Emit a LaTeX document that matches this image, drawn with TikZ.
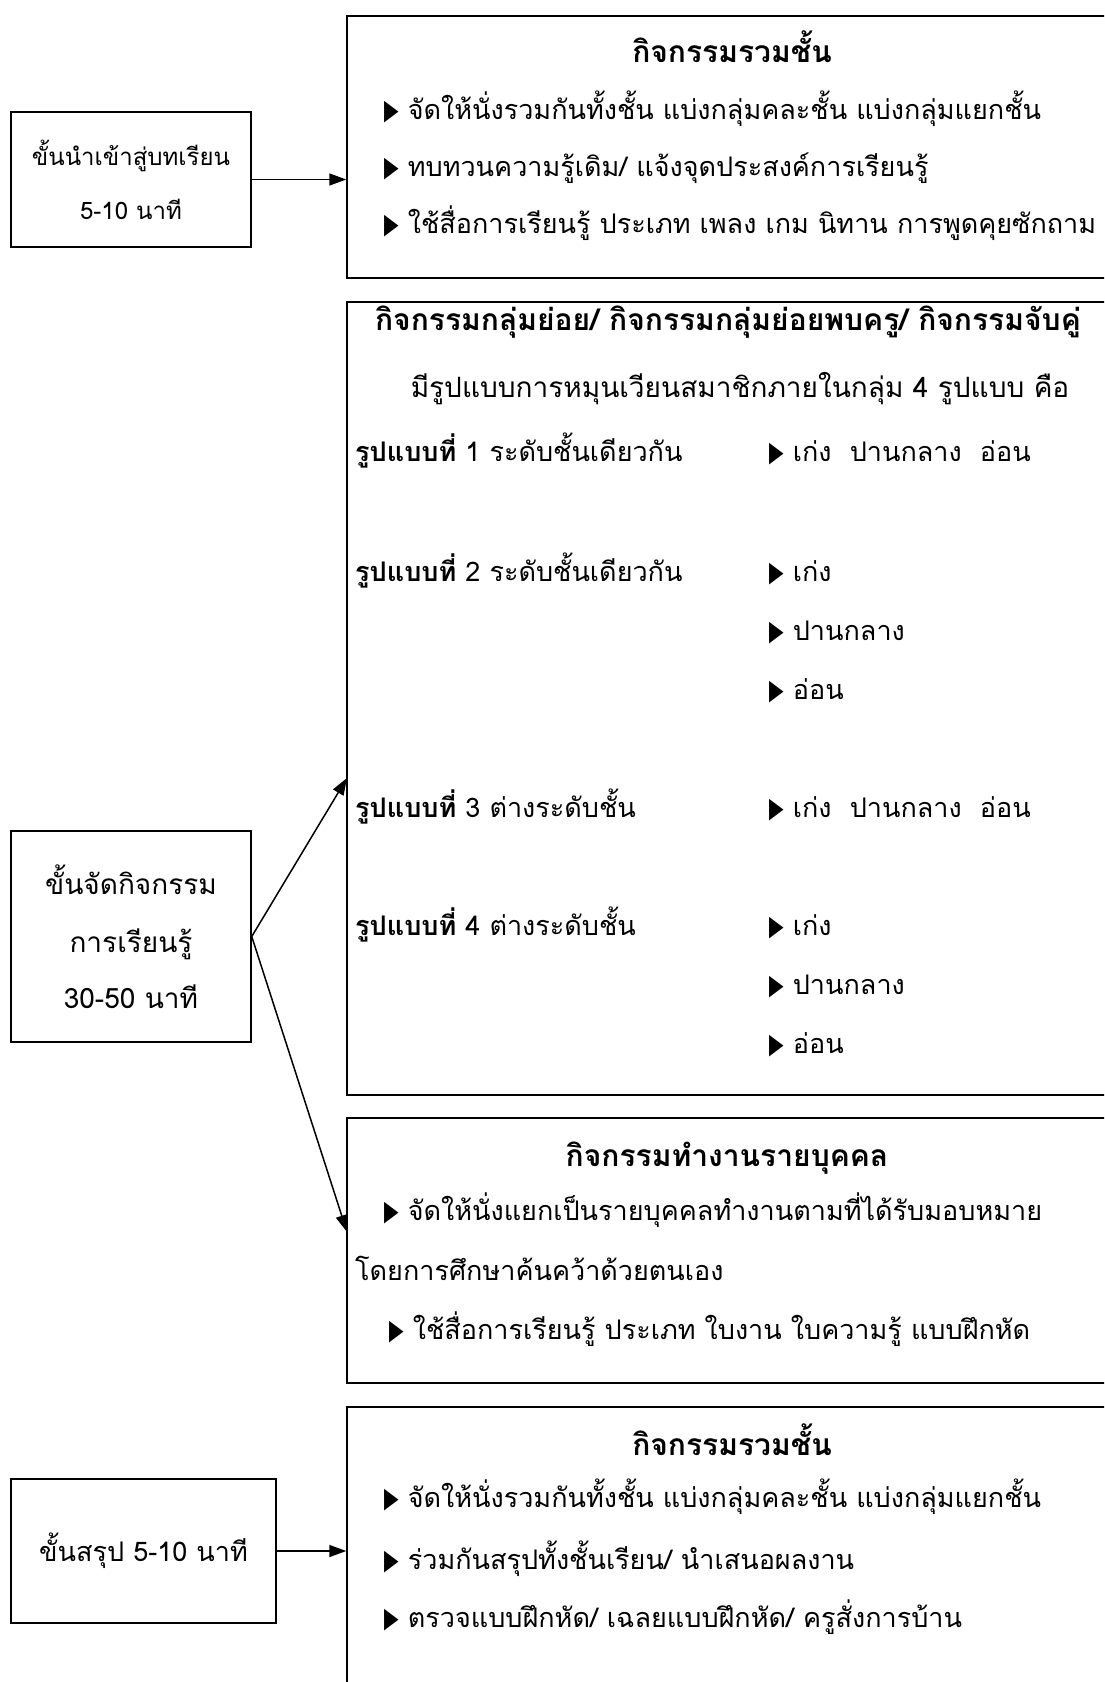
\documentclass[tikz,border=0pt]{standalone}
\usepackage{fontspec}
\usetikzlibrary{arrows.meta}
\newfontfamily\thai[Script=Thai]{Loma}
\newfontfamily\sym{DejaVu Sans}
\newcommand{\tri}{{\sym\scalebox{0.7}[1.05]{▶}}\ }

\begin{document}
\begin{tikzpicture}[x=1pt,y=-1pt,
	box/.style={draw,line width=1.5pt,inner sep=0pt},
	txt/.style={font=\thai\fontsize{27}{54}\selectfont,inner sep=0pt},
	ttl/.style={font=\thai\bfseries\fontsize{30}{36}\selectfont,inner sep=0pt},
	arr/.style={line width=1.5pt,-{Triangle[length=17pt,width=12pt]}}]
	\clip (0,0) rectangle (1104,1682);
	% steps on the left
	\node[box,txt,font=\thai\fontsize{24}{54}\selectfont,align=center,minimum width=240pt,minimum height=135pt] (intro) at (131,179.5) {ขั้นนำเข้าสู่บทเรียน\\5-10 นาที};
	\node[box,txt,font=\thai\fontsize{28}{54}\selectfont,align=center,minimum width=240pt,minimum height=211pt] (act) at (131,936.5) {ขั้นจัดกิจกรรม\\[4pt]การเรียนรู้\\[2pt]30-50 นาที};
	\node[box,txt,align=center,minimum width=265pt,minimum height=144pt] (summ) at (143.5,1551) {ขั้นสรุป 5-10 นาที};
	% boxes on the right
	\node[box,minimum width=770pt,minimum height=262pt] (whole1) at (732,147) {};
	\node[box,minimum width=770pt,minimum height=793pt] (group) at (732,698.5) {};
	\node[box,minimum width=770pt,minimum height=265pt] (single) at (732,1250.5) {};
	\node[box,minimum width=770pt,minimum height=293pt] (whole2) at (732,1553.5) {};
	% whole class
	\node[ttl,anchor=base] (t1) at (732,62) {กิจกรรมรวมชั้น};
	\node[txt,anchor=base west] (a1) at (384,119) {\tri จัดให้นั่งรวมกันทั้งชั้น แบ่งกลุ่มคละชั้น แบ่งกลุ่มแยกชั้น};
	\node[txt,anchor=base west] (a2) at (384,176) {\tri ทบทวนความรู้เดิม/ แจ้งจุดประสงค์การเรียนรู้};
	\node[txt,anchor=base west] (a3) at (384,233) {\tri ใช้สื่อการเรียนรู้ ประเภท เพลง เกม นิทาน การพูดคุยซักถาม};
	% small groups
	\node[ttl,anchor=base] (t2) at (728,330) {กิจกรรมกลุ่มย่อย/ กิจกรรมกลุ่มย่อยพบครู/ กิจกรรมจับคู่};
	\node[txt,font=\thai\fontsize{28}{54}\selectfont,anchor=base] (b0) at (740,397) {มีรูปแบบการหมุนเวียนสมาชิกภายในกลุ่ม 4 รูปแบบ คือ};
	\node[txt,anchor=base west] (p1) at (355,461) {\textbf{รูปแบบที่} 1 ระดับชั้นเดียวกัน};
	\node[txt,anchor=base west] (q1) at (769,461) {\tri เก่ง\ \ ปานกลาง\ \ อ่อน};
	\node[txt,anchor=base west] (p2) at (355,581) {\textbf{รูปแบบที่} 2 ระดับชั้นเดียวกัน};
	\node[txt,anchor=base west] (q2) at (769,581) {\tri เก่ง};
	\node[txt,anchor=base west] (q3) at (769,640) {\tri ปานกลาง};
	\node[txt,anchor=base west] (q4) at (769,699) {\tri อ่อน};
	\node[txt,anchor=base west] (p3) at (355,817) {\textbf{รูปแบบที่} 3 ต่างระดับชั้น};
	\node[txt,anchor=base west] (q5) at (769,817) {\tri เก่ง\ \ ปานกลาง\ \ อ่อน};
	\node[txt,anchor=base west] (p4) at (355,935) {\textbf{รูปแบบที่} 4 ต่างระดับชั้น};
	\node[txt,anchor=base west] (q6) at (769,935) {\tri เก่ง};
	\node[txt,anchor=base west] (q7) at (769,994) {\tri ปานกลาง};
	\node[txt,anchor=base west] (q8) at (769,1053) {\tri อ่อน};
	% individual work
	\node[ttl,anchor=base] (t3) at (727,1166) {กิจกรรมทำงานรายบุคคล};
	\node[txt,anchor=base west] (c1) at (384,1220) {\tri จัดให้นั่งแยกเป็นรายบุคคลทำงานตามที่ได้รับมอบหมาย};
	\node[txt,anchor=base west] (c2) at (355,1280) {โดยการศึกษาค้นคว้าด้วยตนเอง};
	\node[txt,anchor=base west] (c3) at (389,1339) {\tri ใช้สื่อการเรียนรู้ ประเภท ใบงาน ใบความรู้ แบบฝึกหัด};
	% whole class again
	\node[ttl,anchor=base] (t4) at (732,1455) {กิจกรรมรวมชั้น};
	\node[txt,anchor=base west] (d1) at (384,1507) {\tri จัดให้นั่งรวมกันทั้งชั้น แบ่งกลุ่มคละชั้น แบ่งกลุ่มแยกชั้น};
	\node[txt,anchor=base west] (d2) at (384,1569) {\tri ร่วมกันสรุปทั้งชั้นเรียน/ นำเสนอผลงาน};
	\node[txt,anchor=base west] (d3) at (384,1627) {\tri ตรวจแบบฝึกหัด/ เฉลยแบบฝึกหัด/ ครูสั่งการบ้าน};
	% arrows
	\coordinate (upin) at (347,778);
	\coordinate (lowin) at (347,1232);
	\draw[arr] (intro.east) -- (whole1.west |- intro.east);
	\draw[arr] (act.east) -- (upin);
	\draw[arr] (act.east) -- (lowin);
	\draw[arr] (summ.east) -- (whole2.west |- summ.east);
\end{tikzpicture}
\end{document}
